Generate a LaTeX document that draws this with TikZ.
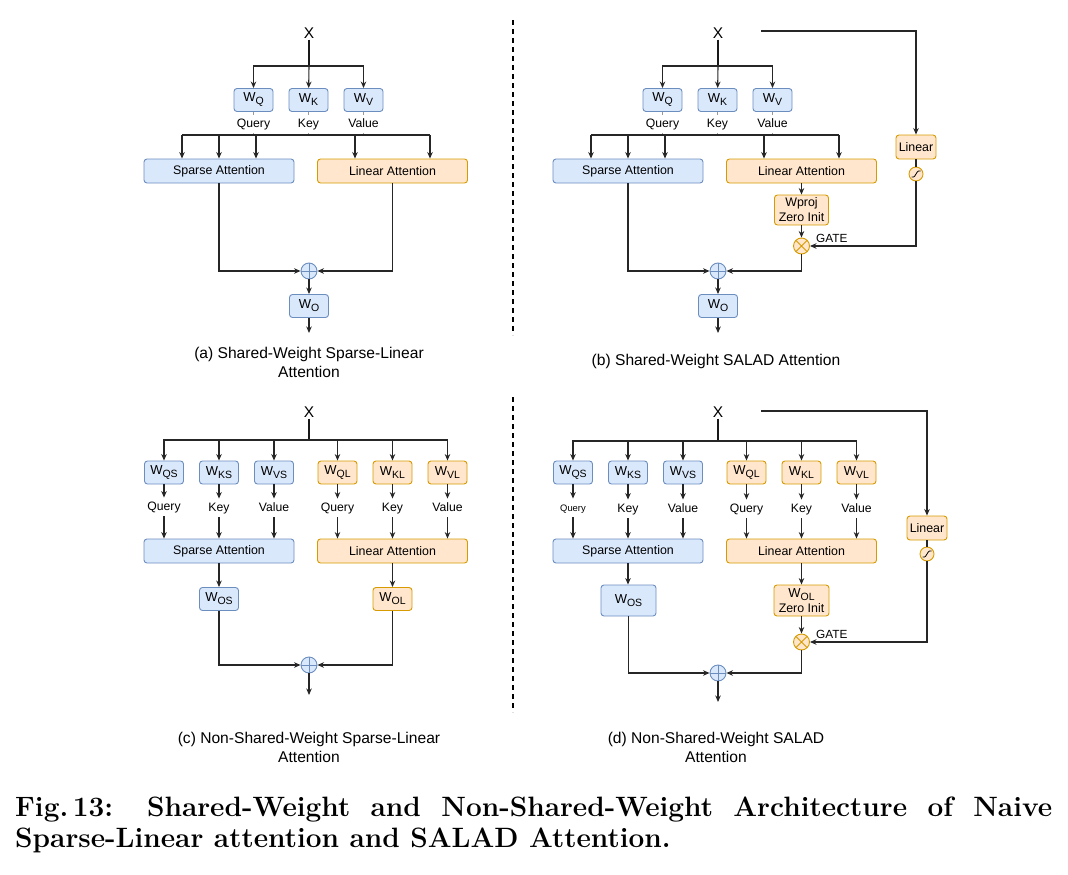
\documentclass[tikz,border=0pt]{standalone}
\usepackage{fontspec}
\newfontfamily\arial{Liberation Sans}
\usetikzlibrary{arrows.meta, positioning}

\definecolor{bfill}{HTML}{DAE8FC}
\definecolor{bline}{HTML}{6C8EBF}
\definecolor{ofill}{HTML}{FFE6CC}
\definecolor{oline}{HTML}{D79B00}

\newcommand{\fsz}[2]{\fontsize{#1}{#2}\selectfont}
\newcommand{\wsub}[1]{{\fsz{13}{15}W}\raisebox{-3pt}{\fsz{10.5}{12}#1}}

\tikzset{
  line/.style={draw=black!85, line width=1.1pt},
  arr/.style={line, -{Stealth[length=6.5pt,width=5.5pt]}},
  thk/.style={draw=black!90, line width=1.9pt},
  tick/.style={draw=black!40, line width=1pt},
  divider/.style={draw=black, line width=1.1pt, dash pattern=on 5pt off 4pt},
  bluebox/.style={draw=bline, fill=bfill, rounded corners=3pt, line width=0.9pt,
    inner sep=0pt, font=\arial\fsz{12.4}{15}, align=center},
  orgbox/.style={draw=oline, fill=ofill, rounded corners=3pt, line width=0.9pt,
    inner sep=0pt, font=\arial\fsz{12.4}{15}, align=center},
  wbox/.style={minimum width=39pt, minimum height=23pt},
  attbox/.style={minimum width=150pt, minimum height=24pt},
  projbox/.style={minimum width=55pt, minimum height=31pt},
  linbox/.style={minimum width=40pt, minimum height=24pt},
  lbl/.style={inner xsep=1pt, inner ysep=3.5pt, text height=9pt, text depth=2.5pt,
    font=\arial\fsz{12.2}{15}},
  xlbl/.style={inner sep=1pt, font=\arial\fsz{15.5}{18}},
  gate/.style={inner sep=0pt, anchor=west, font=\arial\fsz{11.8}{14}},
  subcap/.style={align=center, inner sep=0pt, font=\arial\fsz{15.6}{19}},
  addop/.style={circle, draw=bline, fill=bfill, minimum size=16pt, inner sep=0pt,
    line width=0.9pt, path picture={
      \draw[bline, line width=0.8pt]
        (path picture bounding box.north) -- (path picture bounding box.south)
        (path picture bounding box.west) -- (path picture bounding box.east);}},
  mulop/.style={circle, draw=oline, fill=ofill, minimum size=16pt, inner sep=0pt,
    line width=0.9pt, path picture={
      \draw[oline, line width=0.8pt]
        (path picture bounding box.north west) -- (path picture bounding box.south east)
        (path picture bounding box.north east) -- (path picture bounding box.south west);}},
  sgop/.style={circle, draw=oline, fill=ofill, minimum size=14pt, inner sep=0pt,
    line width=0.9pt, path picture={
      \draw[black, line width=0.8pt]
        ([shift={(-4.5,3)}]path picture bounding box.center) -- ++(2,0)
        .. controls +(1.6,0) and +(-1.6,0) .. ++(5,-6) -- ++(2,0);}}
}

\begin{document}
\begin{tikzpicture}[x=1pt, y=-1pt]
  \useasboundingbox (0,0) rectangle (1068,875);

  % (a) shared weights, sparse + linear
  \node[xlbl] (a-x) at (309,33) {X};
  \coordinate (a-j) at (309,66);
  \node[bluebox, wbox] (a-wq) at (253.5,100) {\wsub{Q}};
  \node[bluebox, wbox] (a-wk) at (308.5,100) {\wsub{K}};
  \node[bluebox, wbox] (a-wv) at (363.5,100) {\wsub{V}};
  \node[lbl] (a-q) at (253.5,124) {Query};
  \node[lbl] (a-k) at (308.5,124) {Key};
  \node[lbl] (a-v) at (363.5,124) {Value};
  \coordinate (a-bl) at (182,135);
  \coordinate (a-br) at (430,135);
  \node[bluebox, attbox] (a-sp) at (219,171) {Sparse Attention};
  \node[orgbox, attbox] (a-la) at (392.5,171) {Linear Attention};
  \node[addop] (a-add) at (309,271) {};
  \node[bluebox, wbox] (a-wo) at (309,306) {\wsub{O}};
  \coordinate (a-out) at (309,333);
  \node[subcap] (a-cap) at (309,362.5) {(a) Shared-Weight Sparse-Linear\\Attention};

  \draw[thk] (a-x) -- (a-j);
  \draw[arr] (a-j) -| (a-wq);
  \draw[arr] (a-j) -- (a-wk);
  \draw[arr] (a-j) -| (a-wv);
  \foreach \n in {q,k,v} {
    \draw[tick] (a-w\n) -- (a-\n);
    \draw[tick] (a-\n) -- (a-\n |- a-bl);
  }
  \draw[line] (a-bl) -- (a-br);
  \foreach \x in {182,219,256} \draw[arr] (\x,135) -- (\x,0 |- a-sp.north);
  \foreach \x in {355,430} \draw[arr] (\x,135) -- (\x,0 |- a-la.north);
  \draw[arr] (a-sp) |- (a-add);
  \draw[arr] (a-la) |- (a-add);
  \draw[arr] (a-add) -- (a-wo);
  \draw[arr] (a-wo) -- (a-out);

  % divider
  \draw[divider] (513,20) -- (513,335);
  \draw[divider] (513,397) -- (513,712);

  % (b) shared weights, SALAD
  \begin{scope}[xshift=409pt]
    \node[xlbl] (b-x) at (309,33) {X};
    \coordinate (b-j) at (309,66);
    \node[bluebox, wbox] (b-wq) at (253.5,100) {\wsub{Q}};
    \node[bluebox, wbox] (b-wk) at (308.5,100) {\wsub{K}};
    \node[bluebox, wbox] (b-wv) at (363.5,100) {\wsub{V}};
    \node[lbl] (b-q) at (253.5,124) {Query};
    \node[lbl] (b-k) at (308.5,124) {Key};
    \node[lbl] (b-v) at (363.5,124) {Value};
    \coordinate (b-bl) at (182,135);
    \coordinate (b-br) at (430,135);
    \node[bluebox, attbox] (b-sp) at (219,171) {Sparse Attention};
    \node[orgbox, attbox] (b-la) at (392.5,171) {Linear Attention};
    \node[orgbox, minimum width=54pt, minimum height=30pt] (b-wp) at (392.5,210) {Wproj\\Zero Init};
    \node[mulop] (b-mul) at (392.5,246) {};
    \node[gate] (b-gate) at (407,238) {GATE};
    \coordinate (b-s0) at (352,31);
    \node[orgbox, linbox] (b-lin) at (507,147) {Linear};
    \node[sgop] (b-sg) at (507,174) {};
    \node[addop] (b-add) at (309,271) {};
    \node[bluebox, wbox] (b-wo) at (309,306) {\wsub{O}};
    \coordinate (b-out) at (309,333);
    \node[subcap] (b-cap) at (307,361) {(b) Shared-Weight SALAD Attention};

    \draw[thk] (b-x) -- (b-j);
    \draw[arr] (b-j) -| (b-wq);
    \draw[arr] (b-j) -- (b-wk);
    \draw[arr] (b-j) -| (b-wv);
    \foreach \n in {q,k,v} {
      \draw[tick] (b-w\n) -- (b-\n);
      \draw[tick] (b-\n) -- (b-\n |- b-bl);
    }
    \draw[line] (b-bl) -- (b-br);
    \foreach \x in {182,219,256} \draw[arr] (\x,135) -- (\x,0 |- b-sp.north);
    \foreach \x in {355,430} \draw[arr] (\x,135) -- (\x,0 |- b-la.north);
    \draw[arr] (b-la) -- (b-wp);
    \draw[arr] (b-wp) -- (b-mul);
    \draw[arr] (b-s0) -| (b-lin);
    \draw[line] (b-lin) -- (b-sg);
    \draw[arr] (b-sg) |- (b-mul);
    \draw[arr] (b-sp) |- (b-add);
    \draw[arr] (b-mul) |- (b-add);
    \draw[arr] (b-add) -- (b-wo);
    \draw[arr] (b-wo) -- (b-out);
  \end{scope}

  % (c) separate weights, sparse + linear
  \node[xlbl] (c-x) at (309,412) {X};
  \coordinate (c-j) at (309,440);
  \node[bluebox, wbox] (c-wqs) at (164,472.5) {\wsub{QS}};
  \node[bluebox, wbox] (c-wks) at (219,472.5) {\wsub{KS}};
  \node[bluebox, wbox] (c-wvs) at (274,472.5) {\wsub{VS}};
  \node[orgbox, wbox] (c-wql) at (337.5,472.5) {\wsub{QL}};
  \node[orgbox, wbox] (c-wkl) at (392.5,472.5) {\wsub{KL}};
  \node[orgbox, wbox] (c-wvl) at (447.5,472.5) {\wsub{VL}};
  \node[lbl] (c-qs) at (164,507) {Query};
  \node[lbl] (c-ks) at (219,508) {Key};
  \node[lbl] (c-vs) at (274,508) {Value};
  \node[lbl] (c-ql) at (337.5,508) {Query};
  \node[lbl] (c-kl) at (392.5,508) {Key};
  \node[lbl] (c-vl) at (447.5,508) {Value};
  \node[bluebox, attbox] (c-sp) at (219,551) {Sparse Attention};
  \node[orgbox, attbox] (c-la) at (392.5,551) {Linear Attention};
  \node[bluebox, wbox] (c-wos) at (219,599) {\wsub{OS}};
  \node[orgbox, wbox] (c-wol) at (392.5,599) {\wsub{OL}};
  \node[addop] (c-add) at (309,665) {};
  \coordinate (c-out) at (309,695);
  \node[subcap] (c-cap) at (309,747) {(c) Non-Shared-Weight Sparse-Linear\\Attention};

  \draw[thk] (c-x) -- (c-j);
  \foreach \n in {qs,ks,vs,ql,kl,vl} {
    \draw[arr] (c-j) -| (c-w\n);
    \draw[arr] (c-w\n) -- (c-\n);
  }
  \foreach \n in {qs,ks,vs} \draw[arr] (c-\n) -- (c-\n |- c-sp.north);
  \foreach \n in {ql,kl,vl} \draw[arr] (c-\n) -- (c-\n |- c-la.north);
  \draw[arr] (c-sp) -- (c-wos);
  \draw[arr] (c-la) -- (c-wol);
  \draw[arr] (c-wos) |- (c-add);
  \draw[arr] (c-wol) |- (c-add);
  \draw[arr] (c-add) -- (c-out);

  % (d) separate weights, SALAD
  \begin{scope}[xshift=409pt]
    \node[xlbl] (d-x) at (309,412) {X};
    \coordinate (d-j) at (309,441);
    \node[bluebox, wbox] (d-wqs) at (164,472.5) {\wsub{QS}};
    \node[bluebox, wbox] (d-wks) at (219,472.5) {\wsub{KS}};
    \node[bluebox, wbox] (d-wvs) at (274,472.5) {\wsub{VS}};
    \node[orgbox, wbox] (d-wql) at (337.5,472.5) {\wsub{QL}};
    \node[orgbox, wbox] (d-wkl) at (392.5,472.5) {\wsub{KL}};
    \node[orgbox, wbox] (d-wvl) at (447.5,472.5) {\wsub{VL}};
    \node[lbl, font=\arial\fsz{9.4}{11}] (d-qs) at (164,508) {Query};
    \node[lbl] (d-ks) at (219,509) {Key};
    \node[lbl] (d-vs) at (274,509) {Value};
    \node[lbl] (d-ql) at (337.5,509) {Query};
    \node[lbl] (d-kl) at (392.5,509) {Key};
    \node[lbl] (d-vl) at (447.5,509) {Value};
    \node[bluebox, attbox] (d-sp) at (219,551) {Sparse Attention};
    \node[orgbox, attbox] (d-la) at (392.5,551) {Linear Attention};
    \node[bluebox, projbox] (d-wos) at (219.5,600.5) {\wsub{OS}};
    \node[orgbox, projbox] (d-wol) at (392.5,600.5) {\wsub{OL}\\Zero Init};
    \node[mulop] (d-mul) at (392.5,642) {};
    \node[gate] (d-gate) at (407,634) {GATE};
    \coordinate (d-s0) at (352,411);
    \node[orgbox, linbox] (d-lin) at (518,528) {Linear};
    \node[sgop] (d-sg) at (518,554) {};
    \node[addop] (d-add) at (309,673) {};
    \coordinate (d-out) at (309,702);
    \node[subcap] (d-cap) at (307,747) {(d) Non-Shared-Weight SALAD\\Attention};

    \draw[thk] (d-x) -- (d-j);
    \foreach \n in {qs,ks,vs,ql,kl,vl} {
      \draw[arr] (d-j) -| (d-w\n);
      \draw[arr] (d-w\n) -- (d-\n);
    }
    \foreach \n in {qs,ks,vs} \draw[arr] (d-\n) -- (d-\n |- d-sp.north);
    \foreach \n in {ql,kl,vl} \draw[arr] (d-\n) -- (d-\n |- d-la.north);
    \draw[arr] (d-sp) -- (d-sp |- d-wos.north);
    \draw[arr] (d-la) -- (d-wol);
    \draw[arr] (d-wol) -- (d-mul);
    \draw[arr] (d-s0) -| (d-lin);
    \draw[line] (d-lin) -- (d-sg);
    \draw[arr] (d-sg) |- (d-mul);
    \draw[arr] (d-wos) |- (d-add);
    \draw[arr] (d-mul) |- (d-add);
    \draw[arr] (d-add) -- (d-out);
  \end{scope}

  % figure caption
  \node[anchor=north west, inner sep=0pt, text width=1037pt, align=justify,
    font=\fsz{28}{31}\bfseries] (fig-cap) at (15,797)
    {\hyphenpenalty=10000 \exhyphenpenalty=10000
     Fig.\,13: Shared-Weight and Non-Shared-Weight Architecture of Naive
     Sparse-Linear attention and SALAD Attention.};
\end{tikzpicture}
\end{document}
